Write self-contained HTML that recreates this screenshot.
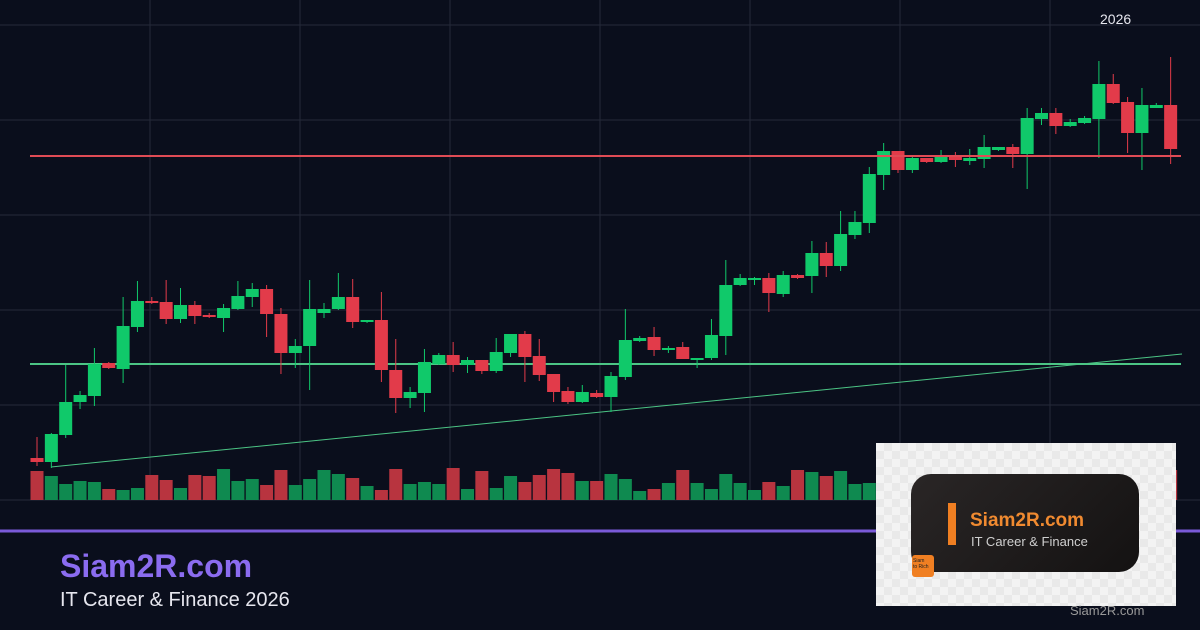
<!DOCTYPE html>
<html><head><meta charset="utf-8"><style>
html,body{margin:0;padding:0;background:#0a0e1c;}
body{width:1200px;height:630px;overflow:hidden;position:relative;font-family:"Liberation Sans",sans-serif;}
svg{position:absolute;left:0;top:0}
.t1{position:absolute;left:60px;top:548px;color:#8b6cf0;font-weight:bold;font-size:32px}
.t2{position:absolute;left:60px;top:589px;color:#e6e6ee;font-size:20px}
.yr{position:absolute;left:1100px;top:11px;color:#e6e6ee;font-size:14px}
.logo{position:absolute;left:876px;top:443px;width:300px;height:163px;background:#f3f3f3;
background-image:linear-gradient(45deg,#e9e9e9 25%,transparent 25%,transparent 75%,#e9e9e9 75%),linear-gradient(45deg,#e9e9e9 25%,transparent 25%,transparent 75%,#e9e9e9 75%);background-size:16px 16px;background-position:0 0,8px 8px}
.card{position:absolute;left:35px;top:31px;width:228px;height:98px;border-radius:20px;background:linear-gradient(135deg,#2a2626,#141212)}
.bar{position:absolute;left:37px;top:29px;width:8px;height:42px;background:#f07f22}
.n1{position:absolute;left:59px;top:36px;color:#f08a30;font-size:19px;font-weight:bold}
.n2{position:absolute;left:60px;top:60px;color:#cfcfcf;font-size:13px}
.sq{position:absolute;left:36px;top:112px;width:22px;height:22px;background:#f07f22;border-radius:3px;font-size:5px;color:#222;line-height:6px;padding:3px 1px;box-sizing:border-box}
.wm{position:absolute;left:1070px;top:603px;color:#9a9a9a;font-size:13px}
</style></head><body>
<svg id="s" width="1200" height="630" xmlns="http://www.w3.org/2000/svg"></svg>
<div class="yr">2026</div>
<div class="t1">Siam2R.com</div>
<div class="t2">IT Career &amp; Finance 2026</div>
<div class="logo"><div class="card"><div class="bar"></div><div class="n1">Siam2R.com</div><div class="n2">IT Career &amp; Finance</div></div><div class="sq">Siam<br>to Rich</div></div>
<div class="wm">Siam2R.com</div>
<script>
var C=[[458,462,437,466],[462,434,433,468],[435,402,365,438],[402,395,391,409],[396,364,348,406],[363,368,362,369],[369,326,297,383],[327,301,281,332],[301,303,297,304],[302,319,280,324],[319,305,288,323],[305,316,301,324],[315,317,313,318],[318,308,304,332],[309,296,281,310],[297,289,283,307],[289,314,285,337],[314,353,308,374],[353,346,339,368],[346,309,280,390],[313,309,303,318],[309,297,273,310],[297,322,279,328],[322,320,320,323],[320,370,292,382],[370,398,339,413],[398,392,387,408],[393,362,349,412],[364,355,353,365],[355,365,342,372],[365,360,357,373],[360,371,360,374],[371,352,338,373],[353,334,334,357],[334,357,331,382],[356,375,339,381],[374,392,374,402],[391,402,387,404],[402,392,385,403],[393,397,390,398],[397,376,372,412],[377,340,309,380],[341,338,336,342],[337,350,327,356],[350,348,346,353],[347,359,342,359],[359,358,358,368],[358,335,319,360],[336,285,260,355],[285,278,274,286],[280,278,277,285],[278,293,273,312],[294,275,271,297],[275,278,274,279],[276,253,241,293],[253,266,242,277],[266,234,211,271],[235,222,211,239],[223,174,167,233],[175,151,143,190],[151,170,151,173],[170,158,157,173],[158,162,158,163],[162,156,150,163],[156,160,152,167],[161,158,149,165],[159,147,135,168],[150,147,147,151],[147,154,144,168],[154,118,108,189],[119,113,108,125],[113,126,108,134],[126,122,119,127],[123,118,116,124],[119,84,61,158],[84,103,74,104],[102,133,97,153],[133,105,88,170],[108,105,103,108],[105,149,57,164]];
var V=[471,476,484,481,482,489,490,488,475,480,488,475,476,469,481,479,485,470,485,479,470,474,478,486,490,469,484,482,484,468,489,471,488,476,482,475,469,473,481,481,474,479,491,489,483,470,483,489,474,483,490,482,486,470,472,476,471,484,483,478,480,485,474,482,478,472,486,480,476,470,482,479,476,484,474,478,482,486,480,470];
var h='';
[25,120,215,310,405,500].forEach(function(y){h+='<line x1="0" x2="1200" y1="'+y+'" y2="'+y+'" stroke="#252a3a" stroke-width="1"/>'});
[150,300,450,600,750,900,1050].forEach(function(x){h+='<line x1="'+x+'" x2="'+x+'" y1="0" y2="500" stroke="#252a3a" stroke-width="1"/>'});
for(var i=0;i<80;i++){var x=37+i*14.35;var c=C[i];var up=c[1]<c[0];var v=V[i];
h+='<rect x="'+(x-6.5)+'" y="'+v+'" width="13" height="'+(500-v)+'" fill="'+(up?'#0f8a50':'#b8343f')+'"/>';}
h+='<polyline fill="none" stroke="#4cc585" stroke-width="1" points="51,467 1182,354"/>';
h+='<line x1="30" x2="1181" y1="364" y2="364" stroke="#4cc585" stroke-width="2"/>';
for(var i=0;i<80;i++){var x=37+i*14.35;var c=C[i];var up=c[1]<c[0];var col=up?'#10c96a':'#e23b4a';
var t=Math.min(c[0],c[1]),b=Math.max(c[0],c[1]);if(b-t<2)b=t+2;
h+='<line x1="'+x+'" x2="'+x+'" y1="'+c[2]+'" y2="'+c[3]+'" stroke="'+col+'" stroke-width="1"/>';
h+='<rect x="'+(x-6.5)+'" y="'+t+'" width="13" height="'+(b-t)+'" fill="'+col+'"/>';}
h+='<line x1="30" x2="1181" y1="156" y2="156" stroke="#e04b55" stroke-width="2"/>';
h+='<line x1="0" x2="1200" y1="531" y2="531" stroke="#7a5ad8" stroke-width="3"/>';
document.getElementById('s').innerHTML=h;
</script>
</body></html>
